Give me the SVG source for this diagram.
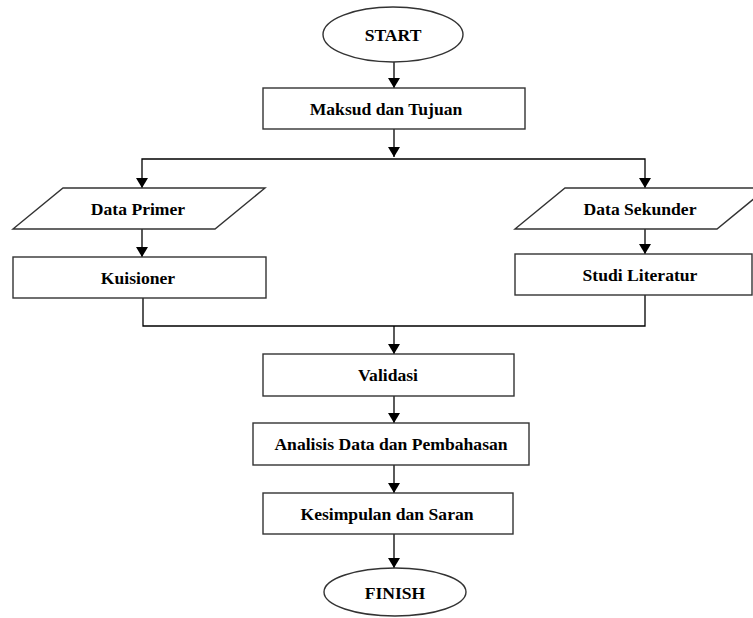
<svg xmlns="http://www.w3.org/2000/svg" width="753" height="618" viewBox="0 0 753 618">
<defs>
<marker id="ah" viewBox="0 0 10 12" refX="10" refY="6" markerWidth="10" markerHeight="12" markerUnits="userSpaceOnUse" orient="auto">
<path d="M0,0 L10,6 L0,12 Z" fill="#000"/>
</marker>
<style>
.s{fill:#fff;stroke:#333;stroke-width:1.4}
.t{font-family:"Liberation Serif","Times New Roman",serif;font-weight:bold;font-size:17.6px;text-anchor:middle;fill:#000}
.c{fill:none;stroke:#000;stroke-width:1.3}
.a{marker-end:url(#ah)}
</style>
</defs>
<rect width="753" height="618" fill="#fff"/>
<g id="connectors">
<line class="c a" x1="394" y1="62" x2="394" y2="88"/>
<line class="c a" x1="394" y1="129" x2="394" y2="157"/>
<polyline class="c a" points="394,159 142,159 142,188"/>
<polyline class="c a" points="394,159 645,159 645,188"/>
<line class="c a" x1="142" y1="229" x2="142" y2="257"/>
<line class="c a" x1="645" y1="229" x2="645" y2="254"/>
<polyline class="c" points="143,298 143,326 645,326 645,295"/>
<line class="c a" x1="394" y1="326" x2="394" y2="354"/>
<line class="c a" x1="394" y1="396" x2="394" y2="423"/>
<line class="c a" x1="394" y1="465" x2="394" y2="493"/>
<line class="c a" x1="394" y1="534" x2="394" y2="568"/>
</g>
<g id="start">
<ellipse class="s" cx="393" cy="34.5" rx="70" ry="27.5"/>
<text class="t" x="393" y="40.5">START</text>
</g>
<g id="maksud">
<rect class="s" x="263" y="88" width="262" height="41"/>
<text class="t" x="386" y="114.5">Maksud dan Tujuan</text>
</g>
<g id="data-primer">
<polygon class="s" points="63,188 265,188 215,229 13,229"/>
<text class="t" x="138" y="215">Data Primer</text>
</g>
<g id="kuisioner">
<rect class="s" x="13" y="257" width="253" height="41"/>
<text class="t" x="138" y="284">Kuisioner</text>
</g>
<g id="data-sekunder">
<polygon class="s" points="565,188 767,188 717,229 515,229"/>
<text class="t" x="640" y="215">Data Sekunder</text>
</g>
<g id="studi-literatur">
<rect class="s" x="515" y="254" width="237" height="41"/>
<text class="t" x="640" y="281">Studi Literatur</text>
</g>
<g id="validasi">
<rect class="s" x="263" y="354" width="251" height="42"/>
<text class="t" x="388" y="381">Validasi</text>
</g>
<g id="analisis">
<rect class="s" x="253" y="423" width="276" height="42"/>
<text class="t" x="391" y="450">Analisis Data dan Pembahasan</text>
</g>
<g id="kesimpulan">
<rect class="s" x="263" y="493" width="250" height="41"/>
<text class="t" x="387" y="519.5">Kesimpulan dan Saran</text>
</g>
<g id="finish">
<ellipse class="s" cx="395" cy="592" rx="71" ry="24"/>
<text class="t" x="395" y="598.5">FINISH</text>
</g>
</svg>
